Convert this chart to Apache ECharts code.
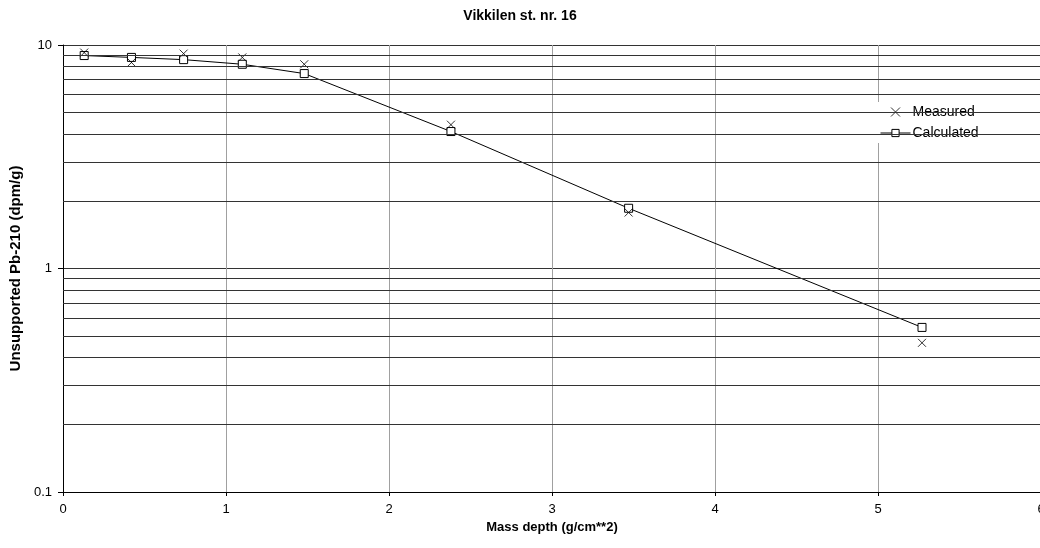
<!DOCTYPE html>
<html>
<head>
<meta charset="utf-8">
<script src="https://cdn.jsdelivr.net/npm/echarts@6/dist/echarts.min.js"></script>
<style>
  html, body { margin: 0; padding: 0; background: #fff; }
  #chart { width: 1040px; height: 548px; }
</style>
</head>
<body>
<div id="chart"></div>
<script>
// Mass depth of each sample (g/cm**2)
const massDepth = [0.13, 0.42, 0.74, 1.10, 1.48, 2.38, 3.47, 5.27];
// Unsupported Pb-210 activity (dpm/g)
const measured = [9.25, 8.35, 9.15, 8.8, 8.2, 4.4, 1.78, 0.465];
const calculated = [8.97, 8.8, 8.6, 8.2, 7.45, 4.1, 1.86, 0.545];
// Intermediate log-decade grid lines
const minorGrid = [0.2, 0.3, 0.4, 0.5, 0.6, 0.7, 0.8, 0.9, 2, 3, 4, 5, 6, 7, 8, 9];

const FONT = 'Liberation Sans, Arial, sans-serif';
const crossPath = 'path://M0,0L10,10M10,0L0,10';

const chart = echarts.init(document.getElementById('chart'), null, { renderer: 'canvas' });

chart.setOption({
  animation: false,
  backgroundColor: '#fff',
  textStyle: { fontFamily: FONT },
  title: {
    text: 'Vikkilen st. nr. 16',
    left: 'center',
    top: 4,
    textStyle: { fontFamily: FONT, fontSize: 14, fontWeight: 'bold', color: '#000' }
  },
  grid: {
    left: 63, top: 45, width: 978, height: 447,
    containLabel: false, outerBoundsMode: 'none'
  },
  legend: {
    orient: 'vertical',
    left: 875,
    top: 102,
    data: ['Measured', 'Calculated'],
    backgroundColor: '#fff',
    padding: [3, 8, 3, 5],
    itemGap: 7,
    itemWidth: 30,
    itemHeight: 9,
    itemStyle: { borderWidth: 1, borderColor: '#000' },
    lineStyle: { width: 1, color: '#000' },
    textStyle: { fontFamily: FONT, fontSize: 14, color: '#000', padding: [0, 0, 0, -3] }
  },
  xAxis: {
    type: 'value',
    min: 0,
    max: 6,
    interval: 1,
    name: 'Mass depth (g/cm**2)',
    nameLocation: 'middle',
    nameGap: 27,
    nameTextStyle: { fontFamily: FONT, fontSize: 13, fontWeight: 'bold', color: '#000' },
    axisLine: { lineStyle: { color: '#000', width: 1 } },
    axisTick: { show: true, length: 4, lineStyle: { color: '#000' } },
    axisLabel: { fontFamily: FONT, fontSize: 13, color: '#000', margin: 11 },
    splitLine: { show: true, lineStyle: { color: '#a0a0a0', width: 1 } }
  },
  yAxis: {
    type: 'log',
    logBase: 10,
    min: 0.1,
    max: 10,
    name: 'Unsupported Pb-210 (dpm/g)',
    nameLocation: 'middle',
    nameGap: 40,
    nameTextStyle: { fontFamily: FONT, fontSize: 15, fontWeight: 'bold', color: '#000' },
    axisLine: { show: true, lineStyle: { color: '#000', width: 1 } },
    axisTick: { show: true, length: 5, lineStyle: { color: '#000' } },
    axisLabel: {
      fontFamily: FONT, fontSize: 13, color: '#000', margin: 11,
      formatter: v => String(Number(v.toPrecision(3)))
    },
    splitLine: { show: true, lineStyle: { color: '#333', width: 1 } }
  },
  series: [
    {
      type: 'line',
      data: [],
      z: 1,
      silent: true,
      markLine: {
        silent: true,
        symbol: ['none', 'none'],
        label: { show: false },
        lineStyle: { color: '#333', width: 1, type: 'solid' },
        data: minorGrid.map(v => ({ yAxis: v }))
      }
    },
    {
      name: 'Calculated',
      type: 'line',
      z: 3,
      data: massDepth.map((x, i) => [x, calculated[i]]),
      symbol: 'rect',
      symbolSize: 8,
      showAllSymbol: true,
      lineStyle: { color: '#000', width: 1 },
      itemStyle: { color: '#fff', borderColor: '#000', borderWidth: 1 }
    },
    {
      name: 'Measured',
      type: 'scatter',
      z: 4,
      data: massDepth.map((x, i) => [x, measured[i]]),
      symbol: crossPath,
      symbolSize: 8,
      itemStyle: { color: 'none', borderColor: '#000', borderWidth: 1 }
    }
  ]
});
</script>
</body>
</html>
